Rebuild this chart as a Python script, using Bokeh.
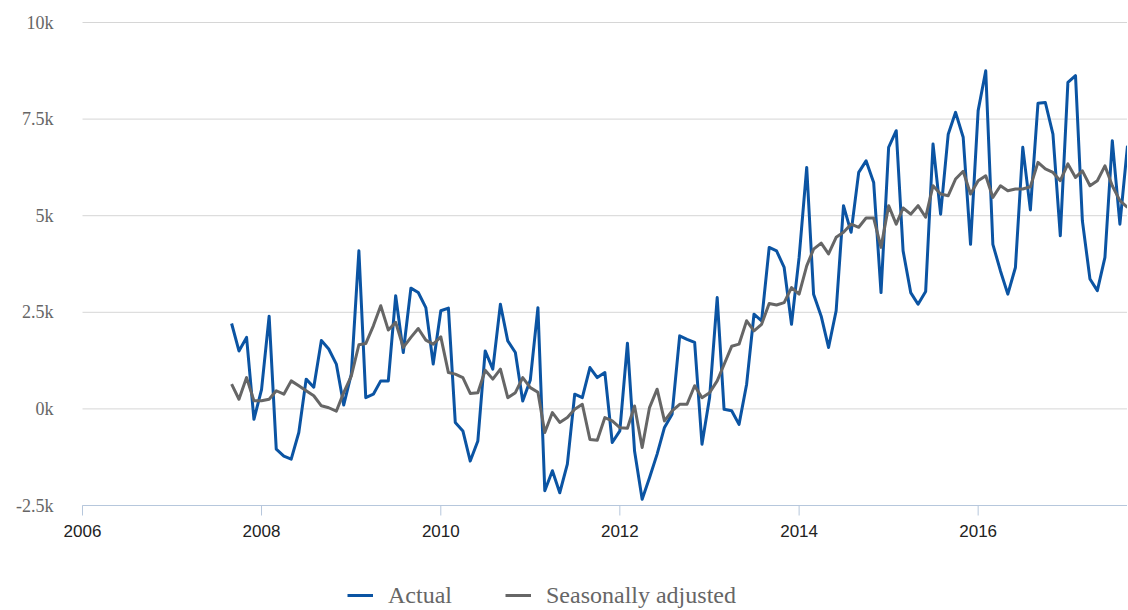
import math
import pandas as pd
from bokeh.plotting import figure
from bokeh.models import Legend, LegendItem, Range1d, ColumnDataSource
from bokeh.core.properties import value
from bokeh.embed import file_html
from bokeh.resources import INLINE

# ---- data -------------------------------------------------------------
first_month = "2007-09-01"          # monthly series, Sep 2007 .. Sep 2017
axis_start = "2006-01-01"

actual = [
    2210, 1500, 1850, -270, 500, 2400, -1040, -1220, -1300, -610,
    770, 560, 1770, 1550, 1160, 100, 900, 4090, 290, 380,
    725, 725, 2930, 1460, 3125, 3013, 2620, 1160, 2540, 2610,
    -350, -570, -1350, -830, 1500, 1030, 2710, 1760, 1460, 207,
    750, 2620, -2120, -1600, -2170, -1430, 380, 290, 1070, 810,
    940, -870, -570, 1700, -1090, -2340, -1780, -1170, -480, -140,
    1890, 1800, 1720, -915, 293, 2880, -10, -50, -400, 640,
    2450, 2280, 4180, 4090, 3660, 2190, 3920, 6250, 2970, 2400,
    1590, 2540, 5260, 4570, 6120, 6420, 5860, 3010, 6770, 7200,
    4090, 3010, 2710, 3040, 6855, 5040, 7110, 7675, 7030, 4260,
    7720, 8750, 4260, 3570, 2970, 3660, 6770, 5150, 7910, 7930,
    7110, 4480, 8450, 8625, 4870, 3360, 3060, 3920, 6940, 4780,
    6810,
]

seasonally_adjusted = [
    640, 250, 810, 210, 210, 250, 470, 380, 725, 600,
    470, 340, 80, 30, -60, 420, 850, 1660, 1690, 2150,
    2670, 2040, 2240, 1590, 1850, 2080, 1780, 1675, 1865, 940,
    900, 810, 400, 420, 1000, 770, 1030, 290, 420, 810,
    550, 430, -610, -95, -350, -225, -10, 120, -790, -810,
    -225, -310, -485, -500, 77, -1000, 34, 510, -310, -50,
    120, 120, 600, 290, 420, 725, 1150, 1620, 1675, 2280,
    2020, 2190, 2730, 2690, 2750, 3140, 2970, 3700, 4135, 4290,
    4010, 4440, 4570, 4780, 4700, 4940, 4940, 4180, 5260, 4780,
    5200, 5040, 5260, 4960, 5776, 5560, 5517, 5950, 6150, 5560,
    5905, 6035, 5473, 5776, 5646, 5690, 5690, 5750, 6380, 6210,
    6120, 5905, 6340, 5990, 6160, 5776, 5905, 6290, 5776, 5390,
    5214,
]

series_names = ["Actual", "Seasonally adjusted"]
series_colors = ["#0b54a3", "#666666"]

y_ticks = [-2500, 0, 2500, 5000, 7500, 10000]
y_labels = ["-2.5k", "0k", "2.5k", "5k", "7.5k", "10k"]
x_tick_years = [2006, 2008, 2010, 2012, 2014, 2016]

# ---- geometry ---------------------------------------------------------
dates = pd.date_range(first_month, periods=len(actual), freq="MS")
x_start = pd.Timestamp(axis_start)
x_end = dates[-1]
plot_left, plot_w, plot_top, plot_h = 82, 1045, 22, 483
canvas_w, canvas_h = plot_left + plot_w, 610

start_ms = x_start.value / 1e6
end_ms = x_end.value / 1e6
ms_per_px = (end_ms - start_ms) / plot_w
view_start = start_ms - plot_left * ms_per_px

y_min, y_max = y_ticks[0], y_ticks[-1]
units_per_px = (y_max - y_min) / plot_h
view_top = y_max + plot_top * units_per_px
view_bottom = view_top - canvas_h * units_per_px

p = figure(
    x_axis_type="datetime",
    frame_width=canvas_w, frame_height=canvas_h,
    min_border_left=0, min_border_right=0, min_border_top=0, min_border_bottom=0,
    x_range=Range1d(view_start, end_ms),
    y_range=Range1d(view_bottom, view_top),
    output_backend="svg", toolbar_location=None,
)
p.outline_line_color = None
p.background_fill_color = "white"
p.border_fill_color = "white"
p.xaxis.visible = False
p.yaxis.visible = False
p.xgrid.grid_line_color = None
p.ygrid.grid_line_color = None

# horizontal gridlines + value labels
grid_src = ColumnDataSource(dict(
    x0=[x_start] * len(y_ticks), x1=[x_end] * len(y_ticks), y=y_ticks, label=y_labels))
p.segment(x0="x0", y0="y", x1="x1", y1="y", source=grid_src,
          line_color="#d6d6d6", line_width=1)
p.text(x="x0", y="y", text="label", source=grid_src, x_offset=-29,
       text_align="right", text_baseline="middle",
       text_font=value("Liberation Serif"), text_font_size="18px", text_color="#666666")

# x axis at the bottom of the value range
axis_color = "#b6c7dc"
tick_dates = [pd.Timestamp(f"{y}-01-01") for y in x_tick_years]
tick_src = ColumnDataSource(dict(
    x=tick_dates, y=[y_min] * len(tick_dates), label=[str(y) for y in x_tick_years]))
p.segment(x0=[x_start], y0=[y_min], x1=[x_end], y1=[y_min],
          line_color=axis_color, line_width=1)
p.ray(x="x", y="y", source=tick_src, length=10, length_units="screen",
      angle=-math.pi / 2, line_color=axis_color, line_width=1)
p.text(x="x", y="y", text="label", source=tick_src, y_offset=25,
       text_align="center", text_baseline="middle",
       text_font=value("Liberation Sans"), text_font_size="17px", text_color="#222222")

# series
r1 = p.line(dates, actual, line_color=series_colors[0], line_width=3, line_join="round")
r2 = p.line(dates, seasonally_adjusted, line_color=series_colors[1], line_width=3, line_join="round")

# legend
legend = Legend(
    items=[LegendItem(label=series_names[0], renderers=[r1]),
           LegendItem(label=series_names[1], renderers=[r2])],
    orientation="horizontal",
    location=(plot_left + 265, 0),
    padding=0, margin=0, spacing=53,
    glyph_width=26, glyph_height=30, label_height=30,
    label_standoff=15,
    label_text_font="Liberation Serif",
    label_text_font_size="24px",
    label_text_color="#666666",
    background_fill_alpha=0, border_line_color=None,
)
p.add_layout(legend, "center")

open("out.html", "w").write(file_html(p, INLINE))
